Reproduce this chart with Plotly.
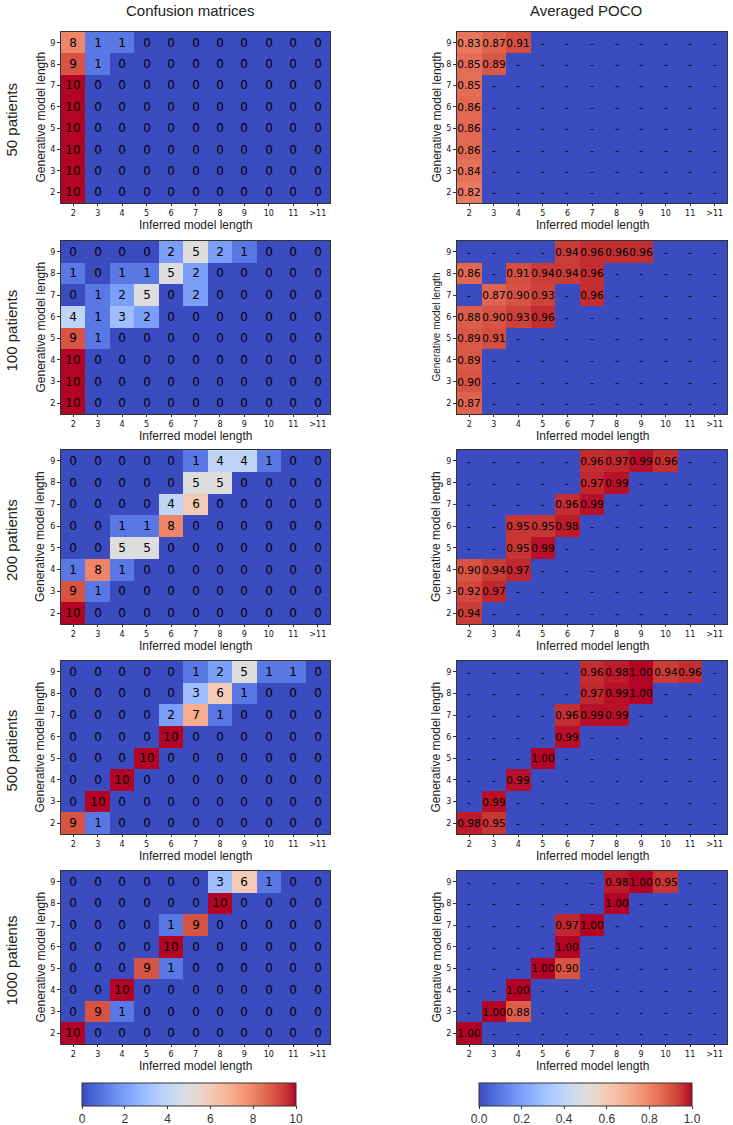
import plotly.graph_objects as go

W, H = 733, 1125

x_labels = ["2", "3", "4", "5", "6", "7", "8", "9", "10", "11", ">11"]
y_labels = ["2", "3", "4", "5", "6", "7", "8", "9"]
row_names = ["50 patients", "100 patients", "200 patients", "500 patients", "1000 patients"]

# Confusion matrices: rows = generative length 2..9 (bottom to top), cols = inferred length
cm_50 = [
    [10, 0, 0, 0, 0, 0, 0, 0, 0, 0, 0],
    [10, 0, 0, 0, 0, 0, 0, 0, 0, 0, 0],
    [10, 0, 0, 0, 0, 0, 0, 0, 0, 0, 0],
    [10, 0, 0, 0, 0, 0, 0, 0, 0, 0, 0],
    [10, 0, 0, 0, 0, 0, 0, 0, 0, 0, 0],
    [10, 0, 0, 0, 0, 0, 0, 0, 0, 0, 0],
    [9, 1, 0, 0, 0, 0, 0, 0, 0, 0, 0],
    [8, 1, 1, 0, 0, 0, 0, 0, 0, 0, 0],
]
cm_100 = [
    [10, 0, 0, 0, 0, 0, 0, 0, 0, 0, 0],
    [10, 0, 0, 0, 0, 0, 0, 0, 0, 0, 0],
    [10, 0, 0, 0, 0, 0, 0, 0, 0, 0, 0],
    [9, 1, 0, 0, 0, 0, 0, 0, 0, 0, 0],
    [4, 1, 3, 2, 0, 0, 0, 0, 0, 0, 0],
    [0, 1, 2, 5, 0, 2, 0, 0, 0, 0, 0],
    [1, 0, 1, 1, 5, 2, 0, 0, 0, 0, 0],
    [0, 0, 0, 0, 2, 5, 2, 1, 0, 0, 0],
]
cm_200 = [
    [10, 0, 0, 0, 0, 0, 0, 0, 0, 0, 0],
    [9, 1, 0, 0, 0, 0, 0, 0, 0, 0, 0],
    [1, 8, 1, 0, 0, 0, 0, 0, 0, 0, 0],
    [0, 0, 5, 5, 0, 0, 0, 0, 0, 0, 0],
    [0, 0, 1, 1, 8, 0, 0, 0, 0, 0, 0],
    [0, 0, 0, 0, 4, 6, 0, 0, 0, 0, 0],
    [0, 0, 0, 0, 0, 5, 5, 0, 0, 0, 0],
    [0, 0, 0, 0, 0, 1, 4, 4, 1, 0, 0],
]
cm_500 = [
    [9, 1, 0, 0, 0, 0, 0, 0, 0, 0, 0],
    [0, 10, 0, 0, 0, 0, 0, 0, 0, 0, 0],
    [0, 0, 10, 0, 0, 0, 0, 0, 0, 0, 0],
    [0, 0, 0, 10, 0, 0, 0, 0, 0, 0, 0],
    [0, 0, 0, 0, 10, 0, 0, 0, 0, 0, 0],
    [0, 0, 0, 0, 2, 7, 1, 0, 0, 0, 0],
    [0, 0, 0, 0, 0, 3, 6, 1, 0, 0, 0],
    [0, 0, 0, 0, 0, 1, 2, 5, 1, 1, 0],
]
cm_1000 = [
    [10, 0, 0, 0, 0, 0, 0, 0, 0, 0, 0],
    [0, 9, 1, 0, 0, 0, 0, 0, 0, 0, 0],
    [0, 0, 10, 0, 0, 0, 0, 0, 0, 0, 0],
    [0, 0, 0, 9, 1, 0, 0, 0, 0, 0, 0],
    [0, 0, 0, 0, 10, 0, 0, 0, 0, 0, 0],
    [0, 0, 0, 0, 1, 9, 0, 0, 0, 0, 0],
    [0, 0, 0, 0, 0, 0, 10, 0, 0, 0, 0],
    [0, 0, 0, 0, 0, 0, 3, 6, 1, 0, 0],
]

N = None
# Averaged POCO (None = "-")
poco_50 = [
    [0.82, N, N, N, N, N, N, N, N, N, N],
    [0.84, N, N, N, N, N, N, N, N, N, N],
    [0.86, N, N, N, N, N, N, N, N, N, N],
    [0.86, N, N, N, N, N, N, N, N, N, N],
    [0.86, N, N, N, N, N, N, N, N, N, N],
    [0.85, N, N, N, N, N, N, N, N, N, N],
    [0.85, 0.89, N, N, N, N, N, N, N, N, N],
    [0.83, 0.87, 0.91, N, N, N, N, N, N, N, N],
]
poco_100 = [
    [0.87, N, N, N, N, N, N, N, N, N, N],
    [0.90, N, N, N, N, N, N, N, N, N, N],
    [0.89, N, N, N, N, N, N, N, N, N, N],
    [0.89, 0.91, N, N, N, N, N, N, N, N, N],
    [0.88, 0.90, 0.93, 0.96, N, N, N, N, N, N, N],
    [N, 0.87, 0.90, 0.93, N, 0.96, N, N, N, N, N],
    [0.86, N, 0.91, 0.94, 0.94, 0.96, N, N, N, N, N],
    [N, N, N, N, 0.94, 0.96, 0.96, 0.96, N, N, N],
]
poco_200 = [
    [0.94, N, N, N, N, N, N, N, N, N, N],
    [0.92, 0.97, N, N, N, N, N, N, N, N, N],
    [0.90, 0.94, 0.97, N, N, N, N, N, N, N, N],
    [N, N, 0.95, 0.99, N, N, N, N, N, N, N],
    [N, N, 0.95, 0.95, 0.98, N, N, N, N, N, N],
    [N, N, N, N, 0.96, 0.99, N, N, N, N, N],
    [N, N, N, N, N, 0.97, 0.99, N, N, N, N],
    [N, N, N, N, N, 0.96, 0.97, 0.99, 0.96, N, N],
]
poco_500 = [
    [0.98, 0.95, N, N, N, N, N, N, N, N, N],
    [N, 0.99, N, N, N, N, N, N, N, N, N],
    [N, N, 0.99, N, N, N, N, N, N, N, N],
    [N, N, N, 1.00, N, N, N, N, N, N, N],
    [N, N, N, N, 0.99, N, N, N, N, N, N],
    [N, N, N, N, 0.96, 0.99, 0.99, N, N, N, N],
    [N, N, N, N, N, 0.97, 0.99, 1.00, N, N, N],
    [N, N, N, N, N, 0.96, 0.98, 1.00, 0.94, 0.96, N],
]
poco_1000 = [
    [1.00, N, N, N, N, N, N, N, N, N, N],
    [N, 1.00, 0.88, N, N, N, N, N, N, N, N],
    [N, N, 1.00, N, N, N, N, N, N, N, N],
    [N, N, N, 1.00, 0.90, N, N, N, N, N, N],
    [N, N, N, N, 1.00, N, N, N, N, N, N],
    [N, N, N, N, 0.97, 1.00, N, N, N, N, N],
    [N, N, N, N, N, N, 1.00, N, N, N, N],
    [N, N, N, N, N, N, 0.98, 1.00, 0.95, N, N],
]

cm_ticks = [0, 2, 4, 6, 8, 10]
poco_ticks = [0.0, 0.2, 0.4, 0.6, 0.8, 1.0]

confusion = [cm_50, cm_100, cm_200, cm_500, cm_1000]
poco = [poco_50, poco_100, poco_200, poco_500, poco_1000]

# matplotlib "coolwarm" (Moreland) colorscale
cw = [
    (59, 76, 192), (68, 90, 204), (77, 104, 215), (87, 117, 225), (98, 130, 234),
    (108, 142, 241), (119, 154, 247), (130, 165, 251), (141, 176, 254), (152, 185, 255),
    (163, 194, 255), (174, 201, 253), (184, 208, 249), (194, 213, 244), (204, 217, 238),
    (213, 219, 230), (221, 221, 221), (229, 216, 209), (236, 211, 197), (241, 204, 184),
    (245, 196, 172), (247, 187, 159), (247, 177, 147), (247, 166, 134), (244, 154, 123),
    (241, 141, 111), (236, 127, 99), (229, 112, 89), (222, 96, 77), (213, 80, 66),
    (203, 62, 56), (192, 40, 47), (180, 4, 38),
]
coolwarm = [[i / (len(cw) - 1), "rgb(%d,%d,%d)" % c] for i, c in enumerate(cw)]


def fx(px):
    return px / W


def fy(py):
    return 1 - py / H


rows_px = [(32, 203), (241, 414), (450, 624), (661, 834), (871, 1044)]
cols_px = [(61, 330), (457, 727)]

fig = go.Figure()
layout = dict(
    width=W, height=H, autosize=False,
    margin=dict(l=0, r=0, t=0, b=0, pad=0, autoexpand=False),
    paper_bgcolor="white", plot_bgcolor="white",
    showlegend=False,
    font=dict(family="Liberation Sans, Arial, sans-serif", color="#222"),
)
annotations = []

tickfont = dict(family="DejaVu Sans", size=8, color="#111")

for r in range(5):
    for c in range(2):
        k = r * 2 + c + 1
        xs = "x" if k == 1 else "x%d" % k
        ys = "y" if k == 1 else "y%d" % k
        if c == 0:
            data = confusion[r]
            z = data
            text = [[str(v) for v in row] for row in data]
            cax = "coloraxis"
            tf = dict(family="DejaVu Sans", size=12, color="black")
        else:
            data = poco[r]
            z = [[(v if v is not None else 0.0) for v in row] for row in data]
            text = [[("%.2f" % v if v is not None else "-") for v in row] for row in data]
            cax = "coloraxis2"
            tf = dict(family="DejaVu Sans", size=10.5, color="black")
        fig.add_trace(go.Heatmap(
            x=x_labels, y=y_labels, z=z, text=text, texttemplate="%{text}",
            textfont=tf, coloraxis=cax, xaxis=xs, yaxis=ys, xgap=0, ygap=0,
            hoverinfo="skip",
        ))
        x0, x1 = cols_px[c]
        top, bot = rows_px[r]
        axname_x = "xaxis" if k == 1 else "xaxis%d" % k
        axname_y = "yaxis" if k == 1 else "yaxis%d" % k
        layout[axname_x] = dict(
            domain=[fx(x0), fx(x1)], anchor=ys, type="category", automargin=False,
            showgrid=False, zeroline=False, showline=True, mirror=True,
            linecolor="#333", linewidth=1, ticks="outside", ticklen=2,
            tickcolor="#333", tickfont=tickfont,
        )
        layout[axname_y] = dict(
            domain=[fy(bot), fy(top)], anchor=xs, type="category", automargin=False,
            showgrid=False, zeroline=False, showline=True, mirror=True,
            linecolor="#333", linewidth=1, ticks="outside", ticklen=3,
            tickcolor="#333", tickfont=tickfont,
        )
        # axis titles
        annotations.append(dict(
            text="Inferred model length", x=fx((x0 + x1) / 2), y=fy(bot + 22),
            xref="paper", yref="paper", showarrow=False, xanchor="center", yanchor="middle",
            font=dict(size=12, color="#222"),
        ))
        annotations.append(dict(
            text="Generative model length", x=fx(x0 - 21), y=fy((top + bot) / 2),
            xref="paper", yref="paper", showarrow=False, textangle=-90,
            xanchor="center", yanchor="middle",
            font=dict(size=10 if (r == 1 and c == 1) else 12, color="#222"),
        ))
    annotations.append(dict(
        text=row_names[r], x=fx(11), y=fy((rows_px[r][0] + rows_px[r][1]) / 2 + 3),
        xref="paper", yref="paper", showarrow=False, textangle=-90,
        xanchor="center", yanchor="middle", font=dict(size=15, color="#222"),
    ))

annotations.append(dict(
    text="Confusion matrices", x=fx(190), y=fy(11), xref="paper", yref="paper",
    showarrow=False, xanchor="center", yanchor="middle", font=dict(size=15, color="#222"),
))
annotations.append(dict(
    text="Averaged POCO", x=fx(586), y=fy(11), xref="paper", yref="paper",
    showarrow=False, xanchor="center", yanchor="middle", font=dict(size=15, color="#222"),
))

layout["annotations"] = annotations
layout["coloraxis"] = dict(
    colorscale=coolwarm, cmin=0, cmax=10,
    colorbar=dict(
        orientation="h", x=fx(189), xanchor="center", y=fy(1083), yanchor="top",
        len=214 / W, lenmode="fraction", thickness=23, thicknessmode="pixels",
        xpad=0, ypad=0, outlinewidth=1, outlinecolor="#333",
        tickvals=cm_ticks, ticks="outside", ticklen=3, tickcolor="#333",
        tickfont=dict(size=12, color="#333"),
    ),
)
layout["coloraxis2"] = dict(
    colorscale=coolwarm, cmin=0, cmax=1,
    colorbar=dict(
        orientation="h", x=fx(585.5), xanchor="center", y=fy(1083), yanchor="top",
        len=213 / W, lenmode="fraction", thickness=23, thicknessmode="pixels",
        xpad=0, ypad=0, outlinewidth=1, outlinecolor="#333",
        tickvals=poco_ticks, tickformat=".1f", ticks="outside", ticklen=3, tickcolor="#333",
        tickfont=dict(size=12, color="#333"),
    ),
)

fig.update_layout(**layout)
fig.write_html(
    "out.html",
    config={"displayModeBar": False},
    post_script="document.body.style.margin='0';document.body.style.padding='0';document.body.style.overflow='hidden';",
)
